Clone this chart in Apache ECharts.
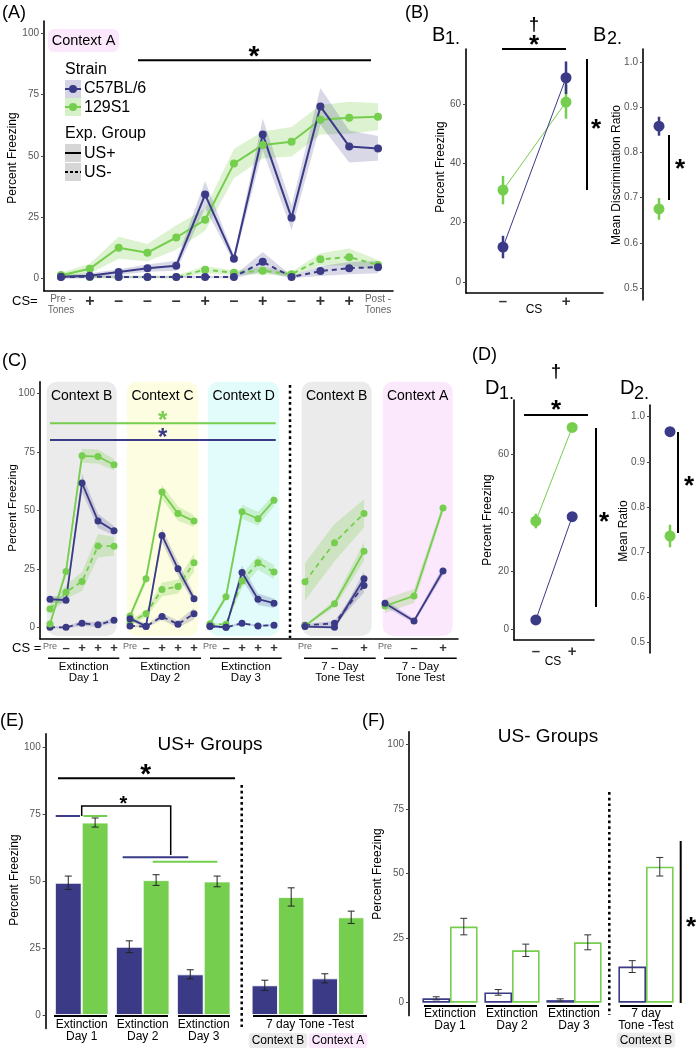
<!DOCTYPE html>
<html><head><meta charset="utf-8">
<script src="https://cdn.jsdelivr.net/npm/echarts@6/dist/echarts.min.js"></script>
<style>html,body{margin:0;padding:0;background:#fff}#c{width:698px;height:1050px}</style>
</head><body><div id="c"></div>
<script>
// ---------------- DATA ----------------
// Panel A (Context A conditioning)
const csA = ['Pre -\nTones','+','–','–','–','+','–','+','–','+','+','Post -\nTones'];
const aB6Plus   = [0.8,1.2,2.7,4.3,5.3,34.3,8.1,58.8,24.8,70.2,53.9,53.1];
const aB6PlusSE = [0.8,1,1.2,1.5,2,5.5,1.5,6.5,5,7.5,6.5,5];
const a129Plus   = [1.4,4.1,12.6,10.6,16.8,24,46.9,54.5,55.8,64.8,65.6,66];
const a129PlusSE = [1,2,4.5,3.5,5,4.5,6,5.5,6,6,6.5,5.5];
const aB6Minus   = [0.7,0.8,0.7,0.7,0.7,0.7,0.7,6.9,0.7,3.1,4.3,4.7];
const aB6MinusSE = [0.5,0.5,0.5,0.5,0.5,0.5,0.5,4,0.5,2,2.5,2.5];
const a129Minus   = [1.4,0.7,0.7,0.7,0.7,3.7,2.4,3.3,1.8,7.9,8.8,5.6];
const a129MinusSE = [0.8,0.5,0.5,0.5,0.5,1.5,1,1.5,1,2.5,3.5,2];
// Panel B
const csB = ['–','+'];
const b1B6 = [11.8,68.9], b1B6SE = [3.8,5.5];
const b1129 = [31,60.7], b1129SE = [4.8,5.6];
const b2B6 = [0.858], b2B6SE = [0.021];
const b2129 = [0.675], b2129SE = [0.024];
// Panel C (segments: Ext Day1, Day2, Day3, 7-day Ctx B, 7-day Ctx A)
const csC5 = ['Pre','–','+','+','+'];
const csC3 = ['Pre','–','+'];
const cCats = [csC5, csC5, csC5, csC3, csC3];
const cContexts = ['Context B','Context C','Context D','Context B','Context A'];
const cDays = ['Extinction\nDay 1','Extinction\nDay 2','Extinction\nDay 3','7 - Day\nTone Test','7 - Day\nTone Test'];
const cB6Plus   = [[12,11.6,61.7,45.5,41.3],[3.7,0.5,39.3,25,12.2],[0.6,0,23.4,12,10.3],[0.3,0,20.8],[10.3,2.7,24.1]];
const cB6PlusSE = [[1.5,1.5,4,3,2],[1,1,3,3,2],[0.5,0.5,3,2.5,2],[0.5,0.5,3],[1.5,1,2]];
const c129Plus   = [[1.4,23.9,73.3,73,69.5],[4.8,20.8,57.8,48.6,45.4],[1.5,13.1,49.4,46.4,54.3],[0.6,10.1,32.5],[9.1,13.4,51]];
const c129PlusSE = [[1,2,3,3,2.5],[1,2,3,3,2.5],[1,1.5,3,3,2.5],[0.5,1.5,4],[3,3,2]];
const cB6Minus   = [[0,0,1.7,1.1,3],[0.6,0.3,4.6,1.3,5.8],[0.3,0,1.7,0.6,0.9],[0.9,1.7,17.9],null];
const cB6MinusSE = [[0.5,0.5,1,1,1],[0.5,0.5,1.5,1.5,2.5],[0.5,0.5,0.5,0.5,0.5],[0.5,1,3],null];
const c129Minus   = [[7.8,15,19.6,34.8,34.7],[2,5.8,16.2,17.4,27.6],[1.2,1.3,19.8,27.6,23.6],[19.5,36.2,48.7],null];
const c129MinusSE = [[2,3,4,5,4],[1,1.5,3,3,4],[0.5,0.5,3,3,3],[8,8,6],null];
// Panel D
const d1B6 = [3.2,38.6], d1B6SE = [1,1.5];
const d1129 = [37.1,69.2], d1129SE = [2.5,1];
const d2B6 = [0.967], d2B6SE = [0.006];
const d2129 = [0.736], d2129SE = [0.025];
// Panel E (US+ groups)
const eCats = ['Extinction\nDay 1','Extinction\nDay 2','Extinction\nDay 3'];
const eTestCats = ['Context B','Context A'];
const eB6 = [49.4,25.5,15.2], eB6SE = [2.5,2.2,1.7];
const e129 = [71.9,50.4,49.9], e129SE = [1.7,2,2];
const eB6Test = [11.1,13.7], eB6TestSE = [1.9,1.7];
const e129Test = [44.1,36.5], e129TestSE = [3.4,2.3];
// Panel F (US- groups)
const fCats = ['Extinction\nDay 1','Extinction\nDay 2','Extinction\nDay 3'];
const fTestCats = ['7 day\nTone -Test'];
const fTestContext = ['Context B'];
const fB6 = [1.7,4.0,1.0], fB6SE = [0.6,1.1,0.5];
const f129 = [29.5,20.3,23.4], f129SE = [3.2,2.4,2.9];
const fB6Test = [14.0], fB6TestSE = [2.3];
const f129Test = [52.7], f129TestSE = [3.6];

// ---------------- STYLE ----------------
const FF = '"Liberation Sans", Arial, Helvetica, sans-serif';
const BLUE = '#3a3a87', GREEN = '#76ce4e';
const BLUE_BAND = 'rgba(58,58,135,0.2)', GREEN_BAND = 'rgba(118,206,78,0.26)';
const CTX = {'Context A':'#fce8fc','Context B':'#ebebeb','Context C':'#fdfde2','Context D':'#e2fcfc'};

const grids = [], xAxes = [], yAxes = [], series = [], gfx = [];
function addGrid(l,t,w,h){ grids.push({left:l,top:t,width:w,height:h,containLabel:false,outerBoundsMode:'none'}); return grids.length-1; }
const axLine = {show:true,onZero:false,lineStyle:{color:'#000',width:1.6}};
function frameY(gi,min,max,ticks,dec){
  return {gridIndex:gi,type:'value',min,max,splitLine:{show:false},axisLine:axLine,
    axisTick:{show:true,length:3,customValues:ticks,lineStyle:{color:'#444',width:1}},
    axisLabel:{customValues:ticks,color:'#555',fontSize:10,fontFamily:FF,margin:5,
      formatter:v=>dec?Number(v).toFixed(dec):String(Math.round(v))}};
}
function hiddenY(gi,min,max){ return {gridIndex:gi,type:'value',min,max,show:false}; }
function csLabel(s){ return s.length>1 ? '{s|'+s+'}' : '{b|'+s+'}'; }
function csRich(ss,bs){ return {s:{fontSize:ss,color:'#666',lineHeight:ss+1,fontFamily:FF},b:{fontSize:bs,fontWeight:'bold',color:'#333',fontFamily:FF,lineHeight:bs}}; }
function ribbon(gi,xs,vals,se,color){
  const lo = vals.map((v,i)=>v-se[i]), hi = vals.map((v,i)=>v+se[i]);
  return {type:'custom',xAxisIndex:gi,yAxisIndex:gi,silent:true,z:1,animation:false,
    data: xs.map((x,i)=>[x,lo[i],hi[i]]), encode:{x:0,y:[1,2]},
    renderItem:(p,api)=>{ if(p.dataIndex!==0) return null; const pts=[];
      for(let i=0;i<xs.length;i++) pts.push(api.coord([xs[i],lo[i]]));
      for(let i=xs.length-1;i>=0;i--) pts.push(api.coord([xs[i],hi[i]]));
      return {type:'polygon',shape:{points:pts},style:{fill:color}}; }};
}
function lineS(gi,xs,vals,color,dashed,size,pairs,width){
  return {type:'line',xAxisIndex:gi,yAxisIndex:gi,data: pairs? vals.map((v,i)=>[xs[i],v]) : vals.slice(),
    symbol:'circle',symbolSize:size,showSymbol:true,silent:true,animation:false,z:3,
    lineStyle:{color,width:width||2,type:dashed?[5,4]:'solid'},itemStyle:{color}};
}
function errS(gi,xs,vals,se,color,width,cap,offset){
  return {type:'custom',xAxisIndex:gi,yAxisIndex:gi,silent:true,z:4,animation:false,
    data: xs.map((x,i)=>[x,vals[i]-se[i],vals[i]+se[i]]), encode:{x:0,y:[1,2]},
    renderItem:(p,api)=>{ const i=p.dataIndex;
      const a=api.coord([xs[i],vals[i]-se[i]]), b=api.coord([xs[i],vals[i]+se[i]]);
      const dx = offset ? offset*api.size([1,0])[0] : 0; const x=a[0]+dx;
      const st={stroke:color,lineWidth:width};
      const ch=[{type:'line',shape:{x1:x,y1:a[1],x2:x,y2:b[1]},style:st}];
      if(cap){ ch.push({type:'line',shape:{x1:x-cap,y1:a[1],x2:x+cap,y2:a[1]},style:st});
               ch.push({type:'line',shape:{x1:x-cap,y1:b[1],x2:x+cap,y2:b[1]},style:st}); }
      return {type:'group',children:ch}; }};
}
function barS(gi,vals,color,hollow,gap){
  return {type:'bar',xAxisIndex:gi,yAxisIndex:gi,data:vals.slice(),barGap:'0%',barCategoryGap:gap,silent:true,animation:false,z:2,
    itemStyle: hollow?{color:'#fff',borderColor:color,borderWidth:1.6}:{color,borderColor:'rgba(255,255,255,0.85)',borderWidth:1}};
}
// graphics helpers
function T(text,x,y,size,o){ o=o||{}; const st={text,fontSize:size,fontFamily:FF,fill:o.color||'#000',fontWeight:o.bold?'bold':'normal',align:o.align||'center',verticalAlign:'middle'};
  if(o.lh) st.lineHeight=o.lh;
  return {type:'text',x,y,z:10,rotation:o.rot?Math.PI/2:0,style:st}; }
function L(x1,y1,x2,y2,color,w,dash){ return {type:'line',z:10,shape:{x1,y1,x2,y2},style:{stroke:color||'#000',lineWidth:w||2,lineDash:dash||null}}; }
function R(x,y,w,h,fill,r){ return {type:'rect',z:0,shape:{x,y,width:w,height:h,r:r||0},style:{fill}}; }
function C(cx,cy,r,fill){ return {type:'circle',z:11,shape:{cx,cy,r},style:{fill}}; }
function star(x,yc,size,color){ return {type:'text',x,y:yc+size*0.2,z:10,style:{text:'*',fontSize:size,fontWeight:'bold',fontFamily:FF,fill:color||'#000',align:'center',verticalAlign:'middle'}}; }
const DOT = [2.7,3];

// ---------------- PANEL A ----------------
const gA = addGrid(44,21,349,270);
xAxes[gA] = {gridIndex:gA,type:'value',min:-0.59,max:11.52,splitLine:{show:false},axisLine:axLine,axisTick:{show:false},
  axisLabel:{customValues:csA.map((_,i)=>i),margin:3,formatter:v=>csLabel(csA[Math.round(v)]),rich:csRich(10,16)}};
yAxes[gA] = frameY(gA,-5,105,[0,25,50,75,100]);
const xsA = csA.map((_,i)=>i);
series.push(ribbon(gA,xsA,a129Plus,a129PlusSE,GREEN_BAND), ribbon(gA,xsA,aB6Plus,aB6PlusSE,BLUE_BAND),
  ribbon(gA,xsA,a129Minus,a129MinusSE,GREEN_BAND), ribbon(gA,xsA,aB6Minus,aB6MinusSE,BLUE_BAND),
  lineS(gA,xsA,a129Minus,GREEN,true,8,true), lineS(gA,xsA,aB6Minus,BLUE,true,8,true),
  lineS(gA,xsA,a129Plus,GREEN,false,8,true), lineS(gA,xsA,aB6Plus,BLUE,false,8,true));
gfx.push(T('(A)',2,13,18,{align:'left'}), R(48,29,71,23,CTX['Context A'],6), T('Context A',83.5,40.5,14.5),
  L(138,60.3,371,60.3,'#000',2), star(254,52,28),
  T('Strain',65,70,16,{align:'left'}),
  R(65,80,16,18,'rgba(58,58,135,0.22)'), L(65,89,81,89,BLUE,2), C(73,89,4,BLUE), T('C57BL/6',84,89,16,{align:'left'}),
  R(65,98,16,18,'rgba(118,206,78,0.3)'), L(65,107,81,107,GREEN,2), C(73,107,4,GREEN), T('129S1',84,108,16,{align:'left'}),
  T('Exp. Group',65,134,16,{align:'left'}),
  R(65,144,16,18,'#d6d6d6'), L(65,153,81,153,'#000',2), T('US+',84,154,16,{align:'left'}),
  R(65,163,16,18,'#d6d6d6'), L(65,172,81,172,'#000',2,[3,2]), T('US-',84,173,16,{align:'left'}),
  T('Percent Freezing',13,158,12,{rot:1}), T('CS=',12,301,13,{align:'left'}));

// ---------------- PANEL B ----------------
const gB1 = addGrid(466,49,137,244);
xAxes[gB1] = {gridIndex:gB1,type:'value',min:-0.587,max:1.587,splitLine:{show:false},axisLine:axLine,axisTick:{show:false},
  axisLabel:{customValues:[0,1],margin:1,formatter:v=>'{b|'+csB[Math.round(v)]+'}',rich:csRich(10,15)}};
yAxes[gB1] = frameY(gB1,-3.7,78.6,[0,20,40,60]);
series.push(lineS(gB1,[0,1],b1129,GREEN,false,11,true,1), lineS(gB1,[0,1],b1B6,BLUE,false,11,true,1),
  errS(gB1,[0,1],b1129,b1129SE,GREEN,2.5,0,0), errS(gB1,[0,1],b1B6,b1B6SE,BLUE,2.5,0,0));
const gB2 = addGrid(643,49,32,251);
xAxes[gB2] = {gridIndex:gB2,type:'category',data:['ratio'],show:false};
yAxes[gB2] = frameY(gB2,0.4735,1.0288,[0.5,0.6,0.7,0.8,0.9,1.0],1);
series.push(errS(gB2,[0],b2B6,b2B6SE,BLUE,2.5,0,0), errS(gB2,[0],b2129,b2129SE,GREEN,2.5,0,0),
  {type:'scatter',xAxisIndex:gB2,yAxisIndex:gB2,data:b2B6.slice(),symbolSize:11,itemStyle:{color:BLUE,opacity:1},z:5,silent:true,animation:false},
  {type:'scatter',xAxisIndex:gB2,yAxisIndex:gB2,data:b2129.slice(),symbolSize:11,itemStyle:{color:GREEN,opacity:1},z:5,silent:true,animation:false});
gfx.push(T('(B)',405,13,18,{align:'left'}),
  T('B',432,35,20,{align:'left'}), T('1.',445,39,18,{align:'left'}),
  T('B',593,35,20,{align:'left'}), T('2.',607,39,18,{align:'left'}),
  L(502,49,566,49,'#000',2), star(534,41,26), T('†',534,25,18,{bold:1}),
  L(587,59,587,190,'#000',2), star(596,125,26),
  L(669,135,669,200,'#000',2), star(680,165,26),
  T('Percent Freezing',441,167,12,{rot:1}), T('CS',534,310,12),
  T('Mean Discrimination Ratio',617,175,12,{rot:1}));

// ---------------- PANEL C ----------------
const cTop = 381.7, cH = 257.3;
const gC = addGrid(40,cTop,418,cH);
xAxes[gC] = {gridIndex:gC,type:'value',min:0,max:1,splitLine:{show:false},axisLine:axLine,axisTick:{show:false},axisLabel:{show:false}};
yAxes[gC] = frameY(gC,-5,105,[0,25,50,75,100]);
const cBoxes = [[42,80],[122,80],[202,80],[290.25,88.5],[370.5,87]];
const cBg = [[46.7,70],[126.7,71.6],[208,71.3],[301.7,70],[382.7,70]];
const cUnder = [[48,119.3],[129.3,201],[210,281.7],[304,375.7],[384,456.7]];
cBoxes.forEach((b,k)=>{
  const gi = addGrid(b[0],cTop,b[1],cH);
  xAxes[gi] = {gridIndex:gi,type:'category',data:cCats[k],boundaryGap:true,axisLine:{show:false,onZero:false},axisTick:{show:false},
    axisLabel:{interval:0,margin:3,formatter:v=>csLabel(v),rich:csRich(9,13)}};
  yAxes[gi] = hiddenY(gi,-5,105);
  const xs = cCats[k].map((_,i)=>i);
  const groups = [[c129Minus,c129MinusSE,GREEN,GREEN_BAND,true],[cB6Minus,cB6MinusSE,BLUE,BLUE_BAND,true],
                  [c129Plus,c129PlusSE,GREEN,GREEN_BAND,false],[cB6Plus,cB6PlusSE,BLUE,BLUE_BAND,false]];
  groups.forEach(g=>{ if(g[0][k]) series.push(ribbon(gi,xs,g[0][k],g[1][k],g[3])); });
  groups.forEach(g=>{ if(g[0][k]) series.push(lineS(gi,xs,g[0][k],g[2],g[4],7,true,1.8)); });
  gfx.push(R(cBg[k][0],cTop,cBg[k][1],254.3,CTX[cContexts[k]],10),
    T(cContexts[k],cBg[k][0]+cBg[k][1]/2,396,14),
    L(cUnder[k][0],658.3,cUnder[k][1],658.3,'#000',1.6),
    T(cDays[k],(cUnder[k][0]+cUnder[k][1])/2,672.5,11.5,{lh:11.6}));
});
gfx.push(T('(C)',2,361,18,{align:'left'}),
  L(50,423.3,275.7,423.3,GREEN,2), star(162.7,416.7,24,GREEN),
  L(50,440,275.7,440,BLUE,2), star(162.7,434,24,BLUE),
  L(290,385,290,638,'#000',2.5,DOT),
  T('CS =',12,648,13,{align:'left'}), T('Percent Freezing',13,508,11.5,{rot:1}));

// ---------------- PANEL D ----------------
const gD1 = addGrid(514,400,80,240);
xAxes[gD1] = {gridIndex:gD1,type:'value',min:-0.6,max:1.6,splitLine:{show:false},axisLine:axLine,axisTick:{show:false},
  axisLabel:{customValues:[0,1],margin:4,formatter:v=>'{b|'+csB[Math.round(v)]+'}',rich:csRich(10,15)}};
yAxes[gD1] = frameY(gD1,-3.7,78.6,[0,20,40,60]);
series.push(lineS(gD1,[0,1],d1129,GREEN,false,11,true,1), lineS(gD1,[0,1],d1B6,BLUE,false,11,true,1),
  errS(gD1,[0,1],d1129,d1129SE,GREEN,2.5,0,0), errS(gD1,[0,1],d1B6,d1B6SE,BLUE,2.5,0,0));
const gD2 = addGrid(650,405,40,248);
xAxes[gD2] = {gridIndex:gD2,type:'category',data:['ratio'],show:false};
yAxes[gD2] = frameY(gD2,0.477,1.026,[0.5,0.6,0.7,0.8,0.9,1.0],1);
series.push(errS(gD2,[0],d2B6,d2B6SE,BLUE,2.5,0,0), errS(gD2,[0],d2129,d2129SE,GREEN,2.5,0,0),
  {type:'scatter',xAxisIndex:gD2,yAxisIndex:gD2,data:d2B6.slice(),symbolSize:11,itemStyle:{color:BLUE,opacity:1},z:5,silent:true,animation:false},
  {type:'scatter',xAxisIndex:gD2,yAxisIndex:gD2,data:d2129.slice(),symbolSize:11,itemStyle:{color:GREEN,opacity:1},z:5,silent:true,animation:false});
gfx.push(T('(D)',472,355,18,{align:'left'}),
  T('D',485,388,20,{align:'left'}), T('1.',499,394,18,{align:'left'}),
  T('D',620,388,20,{align:'left'}), T('2.',634,394,18,{align:'left'}),
  L(524,415,588,415,'#000',2), star(556,406,26), T('†',556,372,18,{bold:1}),
  L(596,428,596,607,'#000',2), star(604,518,26),
  L(678,432,678,533,'#000',2), star(689,482,26),
  T('Percent Freezing',488,520,12,{rot:1}), T('CS',553,662,12), T('Mean Ratio',624,531,12,{rot:1}));

// ---------------- PANEL E ----------------
const eTop = 733.9, eH = 294.5;
const gE = addGrid(45.7,eTop,320,eH);
xAxes[gE] = {gridIndex:gE,type:'value',min:0,max:1,show:false};
yAxes[gE] = frameY(gE,-5,105,[0,25,50,75,100]);
const gE1 = addGrid(51.2,eTop,183,eH);
xAxes[gE1] = {gridIndex:gE1,type:'category',data:eCats,axisLine:{show:false,onZero:false},axisTick:{show:false},
  axisLabel:{interval:0,margin:-9.4,color:'#000',fontSize:12,lineHeight:12,fontFamily:FF}};
yAxes[gE1] = hiddenY(gE1,-5,105);
const gE2 = addGrid(248,eTop,120,eH);
xAxes[gE2] = {gridIndex:gE2,type:'category',data:eTestCats,axisLine:{show:false,onZero:false},axisTick:{show:false},
  axisLabel:{interval:0,margin:4.6,formatter:v=>'{'+(v==='Context A'?'p':'g')+'|'+v+'}',
    rich:{g:{backgroundColor:CTX['Context B'],borderRadius:3,padding:[2,3,1,3],fontSize:12,color:'#000',fontFamily:FF},
          p:{backgroundColor:CTX['Context A'],borderRadius:3,padding:[2,3,1,3],fontSize:12,color:'#000',fontFamily:FF}}}};
yAxes[gE2] = hiddenY(gE2,-5,105);
series.push(barS(gE1,eB6,BLUE,false,'12%'), barS(gE1,e129,GREEN,false,'12%'),
  errS(gE1,[0,1,2],eB6,eB6SE,'#222',1,3.5,-0.22), errS(gE1,[0,1,2],e129,e129SE,'#222',1,3.5,0.22),
  barS(gE2,eB6Test,BLUE,false,'12%'), barS(gE2,e129Test,GREEN,false,'12%'),
  errS(gE2,[0,1],eB6Test,eB6TestSE,'#222',1,3.5,-0.22), errS(gE2,[0,1],e129Test,e129TestSE,'#222',1,3.5,0.22));
gfx.push(T('(E)',0,721,18,{align:'left'}), T('US+ Groups',210,745,19),
  L(58,778.3,235,778.3,'#000',2), star(145.7,770,28),
  L(55.7,816,80,816,BLUE,2), L(83.3,816,107.3,816,GREEN,2),
  {type:'polyline',z:10,shape:{points:[[81.7,816],[81.7,806],[170.7,806],[170.7,855]]},style:{stroke:'#000',lineWidth:1.5,fill:null}},
  star(123.3,800,20),
  L(122.7,857.3,188.3,857.3,BLUE,2), L(152.7,861.7,217.3,861.7,GREEN,2),
  L(241.7,785,241.7,1030,'#000',2.5,DOT),
  L(54,1016,107,1016,'#000',2), L(115,1016,168,1016,'#000',2), L(178,1016,230,1016,'#000',2), L(253,1016,367,1016,'#000',2),
  T('7 day Tone -Test',310,1025,12), T('Percent Freezing',15,880,12,{rot:1}));

// ---------------- PANEL F ----------------
const fTop = 731.8, fH = 283.8;
const gF = addGrid(409,fTop,280,fH);
xAxes[gF] = {gridIndex:gF,type:'value',min:0,max:1,show:false};
yAxes[gF] = frameY(gF,-5,105,[0,25,50,75,100]);
const gF1 = addGrid(419,fTop,186,fH);
xAxes[gF1] = {gridIndex:gF1,type:'category',data:fCats,axisLine:{show:false,onZero:false},axisTick:{show:false},
  axisLabel:{interval:0,margin:-7.6,color:'#000',fontSize:12,lineHeight:12,fontFamily:FF}};
yAxes[gF1] = hiddenY(gF1,-5,105);
const gF2 = addGrid(615,fTop,62,fH);
xAxes[gF2] = {gridIndex:gF2,type:'category',data:fTestCats,axisLine:{show:false,onZero:false},axisTick:{show:false},
  axisLabel:{interval:0,margin:-7.6,color:'#000',fontSize:12,lineHeight:12,fontFamily:FF,
    formatter:(v,i)=>v+'\n{g|'+fTestContext[i]+'}',
    rich:{g:{backgroundColor:CTX['Context B'],borderRadius:3,padding:[2,3,1,3],fontSize:12,lineHeight:16,color:'#000',fontFamily:FF}}}};
yAxes[gF2] = hiddenY(gF2,-5,105);
series.push(barS(gF1,fB6,BLUE,true,'11%'), barS(gF1,f129,GREEN,true,'11%'),
  errS(gF1,[0,1,2],fB6,fB6SE,'#333',1,3.5,-0.2225), errS(gF1,[0,1,2],f129,f129SE,'#333',1,3.5,0.2225),
  barS(gF2,fB6Test,BLUE,true,'11%'), barS(gF2,f129Test,GREEN,true,'11%'),
  errS(gF2,[0],fB6Test,fB6TestSE,'#333',1,3.5,-0.2225), errS(gF2,[0],f129Test,f129TestSE,'#333',1,3.5,0.2225));
gfx.push(T('(F)',362,721,18,{align:'left'}), T('US- Groups',548,737,19),
  L(609.3,792,609.3,1015,'#000',2.5,DOT),
  L(680.7,841,680.7,1003,'#000',2), star(691,923,26),
  L(424,1006,476,1006,'#000',2), L(486,1006,537,1006,'#000',2), L(547,1006,599,1006,'#000',2), L(620,1006,672,1006,'#000',2),
  T('Percent Freezing',378,874,12,{rot:1}));

// ---------------- CHART ----------------
const chart = echarts.init(document.getElementById('c'), null, {renderer:'canvas'});
chart.setOption({
  animation:false, backgroundColor:'#fff',
  textStyle:{fontFamily:FF},
  grid: grids, xAxis: xAxes, yAxis: yAxes, series: series,
  graphic: {elements: gfx}
});
</script></body></html>
